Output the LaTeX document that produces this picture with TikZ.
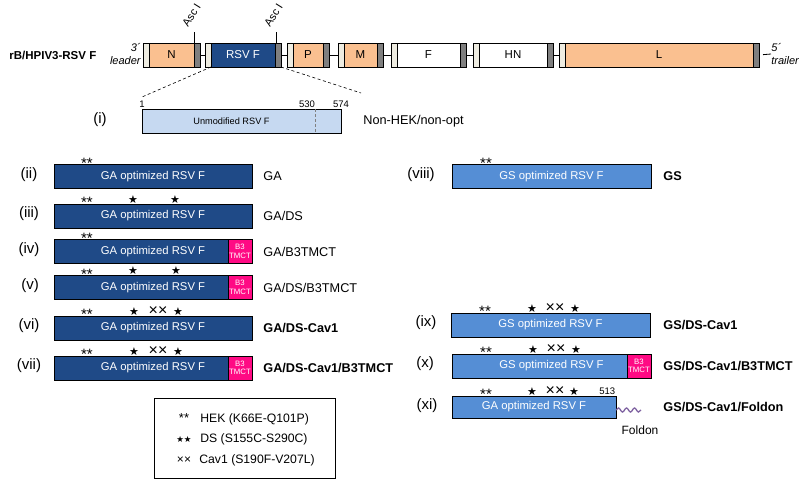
\documentclass[tikz,border=0pt]{standalone}
\usepackage{fontspec}
\setmainfont{Liberation Sans}
\newfontfamily\symfont{DejaVu Sans}
\usetikzlibrary{positioning,calc,decorations.pathmorphing}

\definecolor{genorange}{HTML}{FAC090}
\definecolor{capgrey}{HTML}{EEECE1}
\definecolor{capdkgrey}{HTML}{7F7F7F}
\definecolor{gablue}{HTML}{1F4A87}
\definecolor{gsblue}{HTML}{558ED5}
\definecolor{wtblue}{HTML}{C6D9F1}
\definecolor{tmpink}{HTML}{FF0A84}
\definecolor{foldpurple}{HTML}{8064A2}

\tikzset{
  gene/.style={draw, minimum height=24, inner sep=0, outer sep=0, anchor=west, font=\fontsize{11.5}{13}\selectfont},
  caplight/.style={gene, fill=capgrey, minimum width=6},
  capdark/.style={gene, fill=capdkgrey, minimum width=6},
  construct/.style={draw, minimum height=24, inner sep=0, outer sep=0, anchor=west, text=white, font=\fontsize{11.3}{13}\selectfont},
  gabox/.style={construct, fill=gablue, minimum width=198},
  gsbox/.style={construct, fill=gsblue, minimum width=199},
  tmbox/.style={draw, fill=tmpink, minimum width=24, minimum height=24, inner sep=0, outer sep=0, anchor=east, text=white, align=center, font=\fontsize{7.8}{8.6}\selectfont},
  numlabel/.style={font=\fontsize{15}{17}\selectfont},
  namelabel/.style={anchor=west, inner sep=0, font=\fontsize{12.7}{14}\selectfont},
  namebold/.style={namelabel, font=\bfseries\fontsize{12.7}{14}\selectfont},
  hek/.style={anchor=north, inner sep=0, font=\fontsize{15}{16}\selectfont},
  dsmark/.style={inner sep=0, font=\symfont\fontsize{11}{12}\selectfont},
  cavmark/.style={inner sep=0, font=\fontsize{16}{17}\selectfont},
  smallnum/.style={anchor=south, inner sep=1.5pt, font=\fontsize{9.5}{10}\selectfont},
  asclabel/.style={rotate=58, anchor=base west, inner sep=0, font=\fontsize{11}{12}\selectfont},
  legtext/.style={anchor=base west, inner sep=0, font=\fontsize{12.2}{14}\selectfont},
}

\begin{document}
\begin{tikzpicture}[x=1pt, y=-1pt, line width=0.8pt]
\useasboundingbox (0,0) rectangle (800,481);

% genome map
\node[anchor=west, inner sep=0, font=\bfseries\fontsize{11.5}{13}\selectfont] (mapname) at (9,55) {rB/HPIV3-RSV F};
\node[anchor=east, align=right, inner sep=0, font=\itshape\fontsize{11}{13}\selectfont] (leader) at (141,54) {3´\\leader};

\node[caplight] (capN1) at (143,55) {};
\node[gene, fill=genorange, minimum width=45, right=0pt of capN1] (geneN) {N};
\node[capdark, right=0pt of geneN] (capN2) {};

\node[caplight] (capF1) at (205,55) {};
\node[gene, fill=gablue, text=white, minimum width=64, right=0pt of capF1] (geneRSV) {RSV F};
\node[capdark, right=0pt of geneRSV] (capF2) {};

\node[caplight] (capP1) at (287,55) {};
\node[gene, fill=genorange, minimum width=30, right=0pt of capP1] (geneP) {P};
\node[capdark, right=0pt of geneP] (capP2) {};

\node[caplight] (capM1) at (338,55) {};
\node[gene, fill=genorange, minimum width=33, right=0pt of capM1] (geneM) {M};
\node[capdark, right=0pt of geneM] (capM2) {};

\node[caplight] (capHF1) at (391,55) {};
\node[gene, fill=white, minimum width=63, right=0pt of capHF1] (geneF) {F};
\node[capdark, right=0pt of geneF] (capHF2) {};

\node[caplight] (capHN1) at (473,55) {};
\node[gene, fill=white, minimum width=68, right=0pt of capHN1] (geneHN) {HN};
\node[capdark, right=0pt of geneHN] (capHN2) {};

\node[caplight] (capL1) at (559,55) {};
\node[gene, fill=genorange, minimum width=188, right=0pt of capL1] (geneL) {L};
\node[capdark, right=0pt of geneL] (capL2) {};

\node[anchor=west, align=left, inner sep=0, font=\itshape\fontsize{11}{13}\selectfont] (trailer) at (771,54) {5´\\trailer};

% linker between genes
\draw (capN2.east) -- (capF1.west);
\draw (capF2.east) -- (capP1.west);
\draw (capP2.east) -- (capM1.west);
\draw (capM2.east) -- (capHF1.west);
\draw (capHF2.east) -- (capHN1.west);
\draw (capHN2.east) -- (capL1.west);
\draw[shorten <=4pt] (capL2.east) -- (trailer.west);

% Asc I sites
\coordinate (ascA) at ($(capN2.north west)+(0,-11)$);
\coordinate (ascB) at ($(capF2.north west)+(1,-11)$);
\draw (capN2.north west) -- (ascA);
\draw ($(capF2.north west)+(1,0)$) -- (ascB);
\node[asclabel] (ascAlbl) at ($(ascA)+(-6,-4)$) {Asc I};
\node[asclabel] (ascBlbl) at ($(ascB)+(-6,-4)$) {Asc I};

% (i) unmodified
\node[draw, fill=wtblue, minimum width=199, minimum height=24, inner sep=0, outer sep=0, anchor=west] (wtF) at (142,121) {};
\node[font=\fontsize{9.2}{11}\selectfont] (wtFtxt) at ($(wtF.center)+(-10,0)$) {Unmodified RSV F};
\draw[densely dashed, line width=0.5pt, gray] ($(wtF.north west)+(173,0)$) -- ($(wtF.south west)+(173,0)$);
\node[smallnum] (wtNum1) at (wtF.north west) {1};
\node[smallnum] (wtNum530) at ($(wtF.north west)+(165,0)$) {530};
\node[smallnum] (wtNum574) at (wtF.north east) {574};
\node[numlabel] (numI) at (100,120) {(i)};
\node[namelabel] (nameI) at (363,121) {Non-HEK/non-opt};

% zoom lines
\coordinate (zoomL) at (142,97);
\coordinate (zoomR) at (361,93);
\draw[dash pattern=on 3pt off 2.5pt, line width=0.6pt] (geneRSV.south west) -- (zoomL);
\draw[dash pattern=on 3pt off 2.5pt, line width=0.6pt] (capF2.south east) -- (zoomR);

% (ii)
\node[numlabel] (numII) at (29,175) {(ii)};
\node[gabox] (boxII) at (54,176.5) {GA optimized RSV F};
\node[namelabel] (nameII) at (263,176.5) {GA};
\node[hek] (hekII) at ($(boxII.north west)+(33,-7)$) {**};

% (iii)
\node[numlabel] (numIII) at (29,214) {(iii)};
\node[gabox] (boxIII) at (54,216) {GA optimized RSV F};
\node[namelabel] (nameIII) at (263,216) {GA/DS};
\node[hek] (hekIII) at ($(boxIII.north west)+(33,-7)$) {**};
\node[dsmark] (dsIIIa) at ($(boxIII.north west)+(79,-4.5)$) {★};
\node[dsmark] (dsIIIb) at ($(boxIII.north west)+(121,-4.5)$) {★};

% (iv)
\node[numlabel] (numIV) at (29,250) {(iv)};
\node[gabox] (boxIV) at (54,251.5) {GA optimized RSV F};
\node[tmbox] (tmIV) at (boxIV.east) {B3\\TMCT};
\node[namelabel] (nameIV) at (263,251.5) {GA/B3TMCT};
\node[hek] (hekIV) at ($(boxIV.north west)+(33,-7)$) {**};

% (v)
\node[numlabel] (numV) at (30,286) {(v)};
\node[gabox] (boxV) at (54,287.5) {GA optimized RSV F};
\node[tmbox] (tmV) at (boxV.east) {B3\\TMCT};
\node[namelabel] (nameV) at (263,287.5) {GA/DS/B3TMCT};
\node[hek] (hekV) at ($(boxV.north west)+(33,-7)$) {**};
\node[dsmark] (dsVa) at ($(boxV.north west)+(79,-4.5)$) {★};
\node[dsmark] (dsVb) at ($(boxV.north west)+(122,-4.5)$) {★};

% (vi)
\node[numlabel] (numVI) at (29,326) {(vi)};
\node[gabox] (boxVI) at (54,328) {GA optimized RSV F};
\node[namebold] (nameVI) at (263,328) {GA/DS-Cav1};
\node[hek] (hekVI) at ($(boxVI.north west)+(33,-7)$) {**};
\node[dsmark] (dsVIa) at ($(boxVI.north west)+(80,-4.5)$) {★};
\node[cavmark] (cavVI) at ($(boxVI.north west)+(104,-4.5)$) {××};
\node[dsmark] (dsVIb) at ($(boxVI.north west)+(124,-4.5)$) {★};

% (vii)
\node[numlabel] (numVII) at (29,366) {(vii)};
\node[gabox] (boxVII) at (54,368) {GA optimized RSV F};
\node[tmbox] (tmVII) at (boxVII.east) {B3\\TMCT};
\node[namebold] (nameVII) at (263,368) {GA/DS-Cav1/B3TMCT};
\node[hek] (hekVII) at ($(boxVII.north west)+(33,-7)$) {**};
\node[dsmark] (dsVIIa) at ($(boxVII.north west)+(80,-4.5)$) {★};
\node[cavmark] (cavVII) at ($(boxVII.north west)+(104,-4.5)$) {××};
\node[dsmark] (dsVIIb) at ($(boxVII.north west)+(124,-4.5)$) {★};

% legend
\node[draw, minimum width=181, minimum height=80, inner sep=0, anchor=north west] (legend) at (154,398) {};
\node[anchor=base, inner sep=0, font=\fontsize{13}{14}\selectfont] (legHEK) at (184,422) {**};
\node[legtext] (legHEKtxt) at (200,422) {HEK (K66E-Q101P)};
\node[anchor=base, inner sep=0, font=\symfont\fontsize{8.5}{9}\selectfont] (legDS) at (184,442.5) {★★};
\node[legtext] (legDStxt) at (200,442.5) {DS (S155C-S290C)};
\node[anchor=base, inner sep=0, font=\fontsize{12}{13}\selectfont] (legCav) at (184,463) {××};
\node[legtext] (legCavtxt) at (199,463) {Cav1 (S190F-V207L)};

% (viii)
\node[numlabel] (numVIII) at (421,175) {(viii)};
\node[gsbox] (boxVIII) at (452,176.5) {GS optimized RSV F};
\node[namebold] (nameVIII) at (663,176.5) {GS};
\node[hek] (hekVIII) at ($(boxVIII.north west)+(34,-7)$) {**};

% (ix)
\node[numlabel] (numIX) at (426,323) {(ix)};
\node[gsbox] (boxIX) at (451,325) {GS optimized RSV F};
\node[namebold] (nameIX) at (663,325) {GS/DS-Cav1};
\node[hek] (hekIX) at ($(boxIX.north west)+(34,-7)$) {**};
\node[dsmark] (dsIXa) at ($(boxIX.north west)+(81,-4.5)$) {★};
\node[cavmark] (cavIX) at ($(boxIX.north west)+(104,-4.5)$) {××};
\node[dsmark] (dsIXb) at ($(boxIX.north west)+(124,-4.5)$) {★};

% (x)
\node[numlabel] (numX) at (425,364) {(x)};
\node[gsbox] (boxX) at (452,366) {GS optimized RSV F};
\node[tmbox] (tmX) at (boxX.east) {B3\\TMCT};
\node[namebold] (nameX) at (663,366) {GS/DS-Cav1/B3TMCT};
\node[hek] (hekX) at ($(boxX.north west)+(34,-7)$) {**};
\node[dsmark] (dsXa) at ($(boxX.north west)+(81,-4.5)$) {★};
\node[cavmark] (cavX) at ($(boxX.north west)+(104,-4.5)$) {××};
\node[dsmark] (dsXb) at ($(boxX.north west)+(124,-4.5)$) {★};

% (xi)
\node[numlabel] (numXI) at (427,406) {(xi)};
\node[construct, fill=gsblue, minimum width=164, minimum height=22] (boxXI) at (452,407) {GA optimized RSV F};
\node[namebold] (nameXI) at (663,407) {GS/DS-Cav1/Foldon};
\node[hek] (hekXI) at ($(boxXI.north west)+(34,-7)$) {**};
\node[dsmark] (dsXIa) at ($(boxXI.north west)+(80,-4.5)$) {★};
\node[cavmark] (cavXI) at ($(boxXI.north west)+(103,-4.5)$) {××};
\node[dsmark] (dsXIb) at ($(boxXI.north west)+(122,-4.5)$) {★};
\node[anchor=south east, inner sep=1.5pt, font=\fontsize{9.5}{10}\selectfont] (num513) at ($(boxXI.north east)+(1,0)$) {513};

% foldon
\coordinate (foldEnd) at (641,410);
\draw[foldpurple, line width=1.3pt, decorate, decoration={snake, amplitude=2pt, segment length=8pt}] ($(boxXI.east)+(0,3)$) -- (foldEnd);
\node[font=\fontsize{12}{14}\selectfont] (foldonLbl) at (640,430) {Foldon};
\end{tikzpicture}
\end{document}
